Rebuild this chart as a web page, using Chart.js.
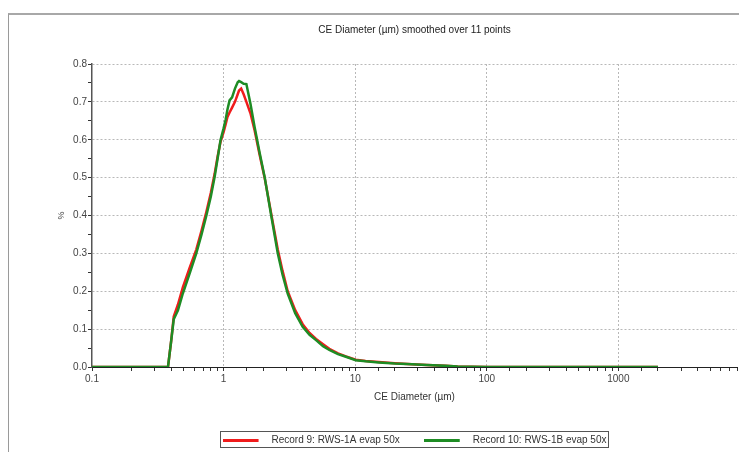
<!DOCTYPE html>
<html>
<head>
<meta charset="utf-8">
<title>CE Diameter (µm) smoothed over 11 points</title>
<script src="https://cdn.jsdelivr.net/npm/chart.js@4.4.0/dist/chart.umd.min.js"></script>
<style>
    html, body { margin: 0; padding: 0; overflow: hidden; background: #fff; }
    #frame { position: absolute; left: 8px; top: 13px; width: 800px; height: 500px;
             border-left: 1px solid #9a9a9a; border-top: 2px solid #a8a8a8; }
    #wrap { position: absolute; left: 0; top: 0; width: 739px; height: 460px; }
</style>
</head>
<body>
<div id="frame"></div>
<div id="wrap"><canvas id="chart"></canvas></div>
<script>
// CE diameter (µm) of each point
const diameters = [0.1, 0.2, 0.3, 0.378, 0.40, 0.418, 0.45, 0.49, 0.55, 0.62, 0.68, 0.74, 0.80, 0.855, 0.90, 0.948,
    1.0, 1.035, 1.07, 1.11, 1.16, 1.22, 1.28, 1.31, 1.36, 1.42, 1.49, 1.6, 1.72, 1.88, 2.05, 2.3, 2.58, 2.8,
    3.07, 3.5, 3.99, 4.5, 5.04, 5.7, 6.36, 7.4, 8.5, 10.1, 12, 15.1, 20, 27, 35, 48.6, 60, 100, 500, 1000, 2000];

// % values, Record 9 (red) and Record 10 (green)
const record9 = [0, 0, 0, 0, 0.07, 0.133, 0.165, 0.21, 0.26, 0.31, 0.36, 0.41, 0.46, 0.51, 0.555, 0.595,
    0.62, 0.64, 0.66, 0.672, 0.685, 0.70, 0.72, 0.73, 0.735, 0.72, 0.70, 0.67, 0.625, 0.56, 0.50, 0.405, 0.31, 0.255,
    0.20, 0.15, 0.113, 0.09, 0.074, 0.06, 0.048, 0.036, 0.028, 0.019, 0.016, 0.013, 0.010, 0.007, 0.005, 0.003, 0.001, 0, 0, 0, 0];
const record10 = [0, 0, 0, 0, 0.07, 0.126, 0.15, 0.194, 0.245, 0.30, 0.35, 0.40, 0.45, 0.502, 0.55, 0.599,
    0.63, 0.652, 0.68, 0.704, 0.712, 0.735, 0.752, 0.755, 0.752, 0.748, 0.747, 0.695, 0.634, 0.565, 0.502, 0.40, 0.30, 0.245,
    0.194, 0.142, 0.106, 0.085, 0.071, 0.055, 0.045, 0.034, 0.027, 0.018, 0.015, 0.012, 0.009, 0.007, 0.005, 0.003, 0.001, 0, 0, 0, 0];

const seriesNames = ['Record 9: RWS-1A evap 50x', 'Record 10: RWS-1B evap 50x'];
const seriesColors = ['#f01c1c', '#1e8c24'];

const xMajorTicks = [0.1, 1, 10, 100, 1000];
const xTickLabels = ['0.1', '1', '10', '100', '1000'];
const yTickLabels = ['0.0', '0.1', '0.2', '0.3', '0.4', '0.5', '0.6', '0.7', '0.8'];

const FONT = 'Liberation Sans, Arial, sans-serif';

function toPoints(values) {
    return diameters.map((d, i) => ({ x: d, y: values[i] }));
}

// short line with empty space on its right, used as legend marker
function legendLine(color) {
    const c = document.createElement('canvas');
    c.width = 44;
    c.height = 3;
    const g = c.getContext('2d');
    g.fillStyle = color;
    g.fillRect(0, 0, 36, 3);
    return c;
}

function isXMajor(v) {
    const e = Math.log10(v);
    return Math.abs(e - Math.round(e)) < 1e-6;
}

function isYMajor(v) {
    return Math.abs(v * 10 - Math.round(v * 10)) < 1e-6;
}

// box round the legend
const legendBox = {
    id: 'legendBox',
    afterDraw(chart) {
        const boxes = chart.legend.legendHitBoxes;
        if (!boxes || !boxes.length) return;
        const first = boxes[0];
        const last = boxes[boxes.length - 1];
        const ctx = chart.ctx;
        ctx.save();
        ctx.strokeStyle = '#555';
        ctx.lineWidth = 1;
        ctx.strokeRect(Math.round(first.left) - 2.5, Math.round(first.top) - 3.5,
            Math.round(last.left + last.width - first.left) + 4, 16);
        ctx.restore();
    }
};

new Chart(document.getElementById('chart'), {
    type: 'line',
    data: {
        datasets: [
            {
                label: seriesNames[0],
                data: toPoints(record9),
                borderColor: seriesColors[0],
                backgroundColor: seriesColors[0],
                borderWidth: 2.5,
                pointRadius: 0,
                pointStyle: legendLine(seriesColors[0]),
                tension: 0,
                order: 1
            },
            {
                label: seriesNames[1],
                data: toPoints(record10),
                borderColor: seriesColors[1],
                backgroundColor: seriesColors[1],
                borderWidth: 2.5,
                pointRadius: 0,
                pointStyle: legendLine(seriesColors[1]),
                tension: 0,
                order: 0
            }
        ]
    },
    options: {
        responsive: true,
        maintainAspectRatio: false,
        animation: false,
        layout: { padding: { left: 0, right: 0, top: 0, bottom: 5 } },
        plugins: {
            title: {
                display: true,
                fullSize: false,
                text: 'CE Diameter (µm) smoothed over 11 points',
                color: '#222',
                font: { family: FONT, size: 10, weight: 'normal' },
                padding: { top: 24, bottom: 28 }
            },
            legend: {
                position: 'bottom',
                fullSize: false,
                labels: {
                    usePointStyle: true,
                    pointStyleWidth: 44,
                    padding: 24,
                    color: '#333',
                    font: { family: FONT, size: 10 },
                    sort: (a, b) => a.datasetIndex - b.datasetIndex
                }
            },
            tooltip: { enabled: false }
        },
        scales: {
            x: {
                type: 'logarithmic',
                min: 0.1,
                max: 7970,
                afterFit: (scale) => { scale.height = 44; },
                title: {
                    display: true,
                    text: 'CE Diameter (µm)',
                    color: '#333',
                    font: { family: FONT, size: 10 },
                    padding: { top: 0, bottom: 8 }
                },
                border: { display: true, color: '#222', width: 1, dash: [2, 2] },
                grid: {
                    color: (ctx) => (ctx.tick && isXMajor(ctx.tick.value) && ctx.tick.value > 0.1 ? '#b8b8b8' : 'rgba(0,0,0,0)'),
                    lineWidth: 1,
                    tickColor: '#333',
                    tickLength: 4,
                    tickBorderDash: []
                },
                ticks: {
                    autoSkip: false,
                    maxRotation: 0,
                    padding: 2,
                    color: '#444',
                    font: { family: FONT, size: 10 },
                    callback: (v) => {
                        if (!isXMajor(v)) return '';
                        const i = xMajorTicks.findIndex((t) => Math.abs(Math.log10(t) - Math.log10(v)) < 1e-6);
                        return i >= 0 ? xTickLabels[i] : '';
                    }
                }
            },
            y: {
                min: 0,
                max: 0.8,
                afterFit: (scale) => { scale.width = 92; },
                title: {
                    display: true,
                    text: '%',
                    color: '#444',
                    font: { family: FONT, size: 9 },
                    padding: { top: 56, bottom: 0 }
                },
                border: { display: true, color: '#555', width: 1.5, dash: [2, 2] },
                grid: {
                    color: (ctx) => (ctx.tick && isYMajor(ctx.tick.value) && ctx.tick.value > 0 ? '#b8b8b8' : 'rgba(0,0,0,0)'),
                    lineWidth: 1,
                    tickColor: '#333',
                    tickLength: 4,
                    tickBorderDash: []
                },
                ticks: {
                    stepSize: 0.05,
                    autoSkip: false,
                    padding: 1,
                    color: '#444',
                    font: { family: FONT, size: 10 },
                    callback: (v) => (isYMajor(v) ? yTickLabels[Math.round(v * 10)] : '')
                }
            }
        }
    },
    plugins: [legendBox]
});
</script>
</body>
</html>
